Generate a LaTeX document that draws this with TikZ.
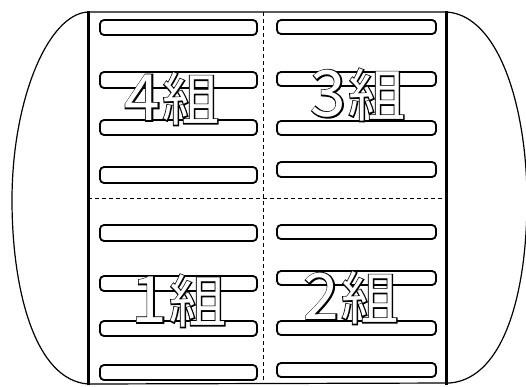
\documentclass[tikz,border=0pt]{standalone}
\usepackage{fontspec}
\newfontfamily\cjkfont{Noto Sans CJK JP}
\newfontfamily\cjkthick[FakeBold=4]{Noto Sans CJK JP}
\newcommand{\kumitext}[1]{{\fontsize{64}{64}\selectfont #1}\kern2pt{}組}
\tikzset{
  bar/.style={draw=black, line width=1.8pt, fill=white, rounded corners=4pt},
  thickline/.style={line width=3pt},
  dashline/.style={line width=0.8pt, dash pattern=on 4pt off 3pt},
  outer/.style={line width=1.2pt},
  lblback/.style={inner sep=0pt, text=black, font=\cjkthick\fontsize{57}{57}\selectfont},
  lblfront/.style={inner sep=0pt, text=white, font=\cjkfont\fontsize{57}{57}\selectfont}
}
\begin{document}
\begin{tikzpicture}[x=1pt,y=-1pt]
\useasboundingbox (0,0) rectangle (526,386);
\begin{scope}
\clip (0,0) rectangle (526,386);
\draw[outer] (88,12) -- (447,12) .. controls (500,16) and (527,110) .. (527,200)
  .. controls (527,290) and (505,378) .. (450,383) -- (88,384)
  .. controls (35,380) and (12,290) .. (12,200)
  .. controls (12,100) and (48,14) .. (88,12) -- cycle;
\end{scope}
% dashed dividers
\coordinate (vt) at (263,12);
\coordinate (vb) at (263,384);
\coordinate (hl) at (88,198);
\coordinate (hr) at (446,198);
\draw[dashline] (vt) -- (vb);
\draw[dashline] (hl) -- (hr);
% thick verticals
\coordinate (lt) at (88,11);
\coordinate (lb) at (88,385);
\coordinate (rt) at (446,11);
\coordinate (rb) at (446,385);
\draw[thickline] (lt) -- (lb);
\draw[thickline] (rt) -- (rb);
% left column bars
\foreach \a/\b in {20/35,72/88,120/135,167/183,225/241,276/291,321/336,365/380}{
  \draw[bar] (100,\a) rectangle (257,\b);
}
% right column bars
\foreach \a/\b in {20/34,72/86,121/135,162/177,225/239,271/285,321/335,363/377}{
  \draw[bar] (277,\a) rectangle (436,\b);
}
% labels: black emboldened copy under a white copy gives outlined text
\node[lblback] (k4o) at (172,99) {\kumitext{4}};
\node[lblfront] (k4) at (172,99) {\kumitext{4}};
\node[lblback] (k3o) at (358,95) {\kumitext{3}};
\node[lblfront] (k3) at (358,95) {\kumitext{3}};
\node[lblback] (k1o) at (179,301) {\kumitext{1}};
\node[lblfront] (k1) at (179,301) {\kumitext{1}};
\node[lblback] (k2o) at (351,298) {\kumitext{2}};
\node[lblfront] (k2) at (351,298) {\kumitext{2}};
\end{tikzpicture}
\end{document}
